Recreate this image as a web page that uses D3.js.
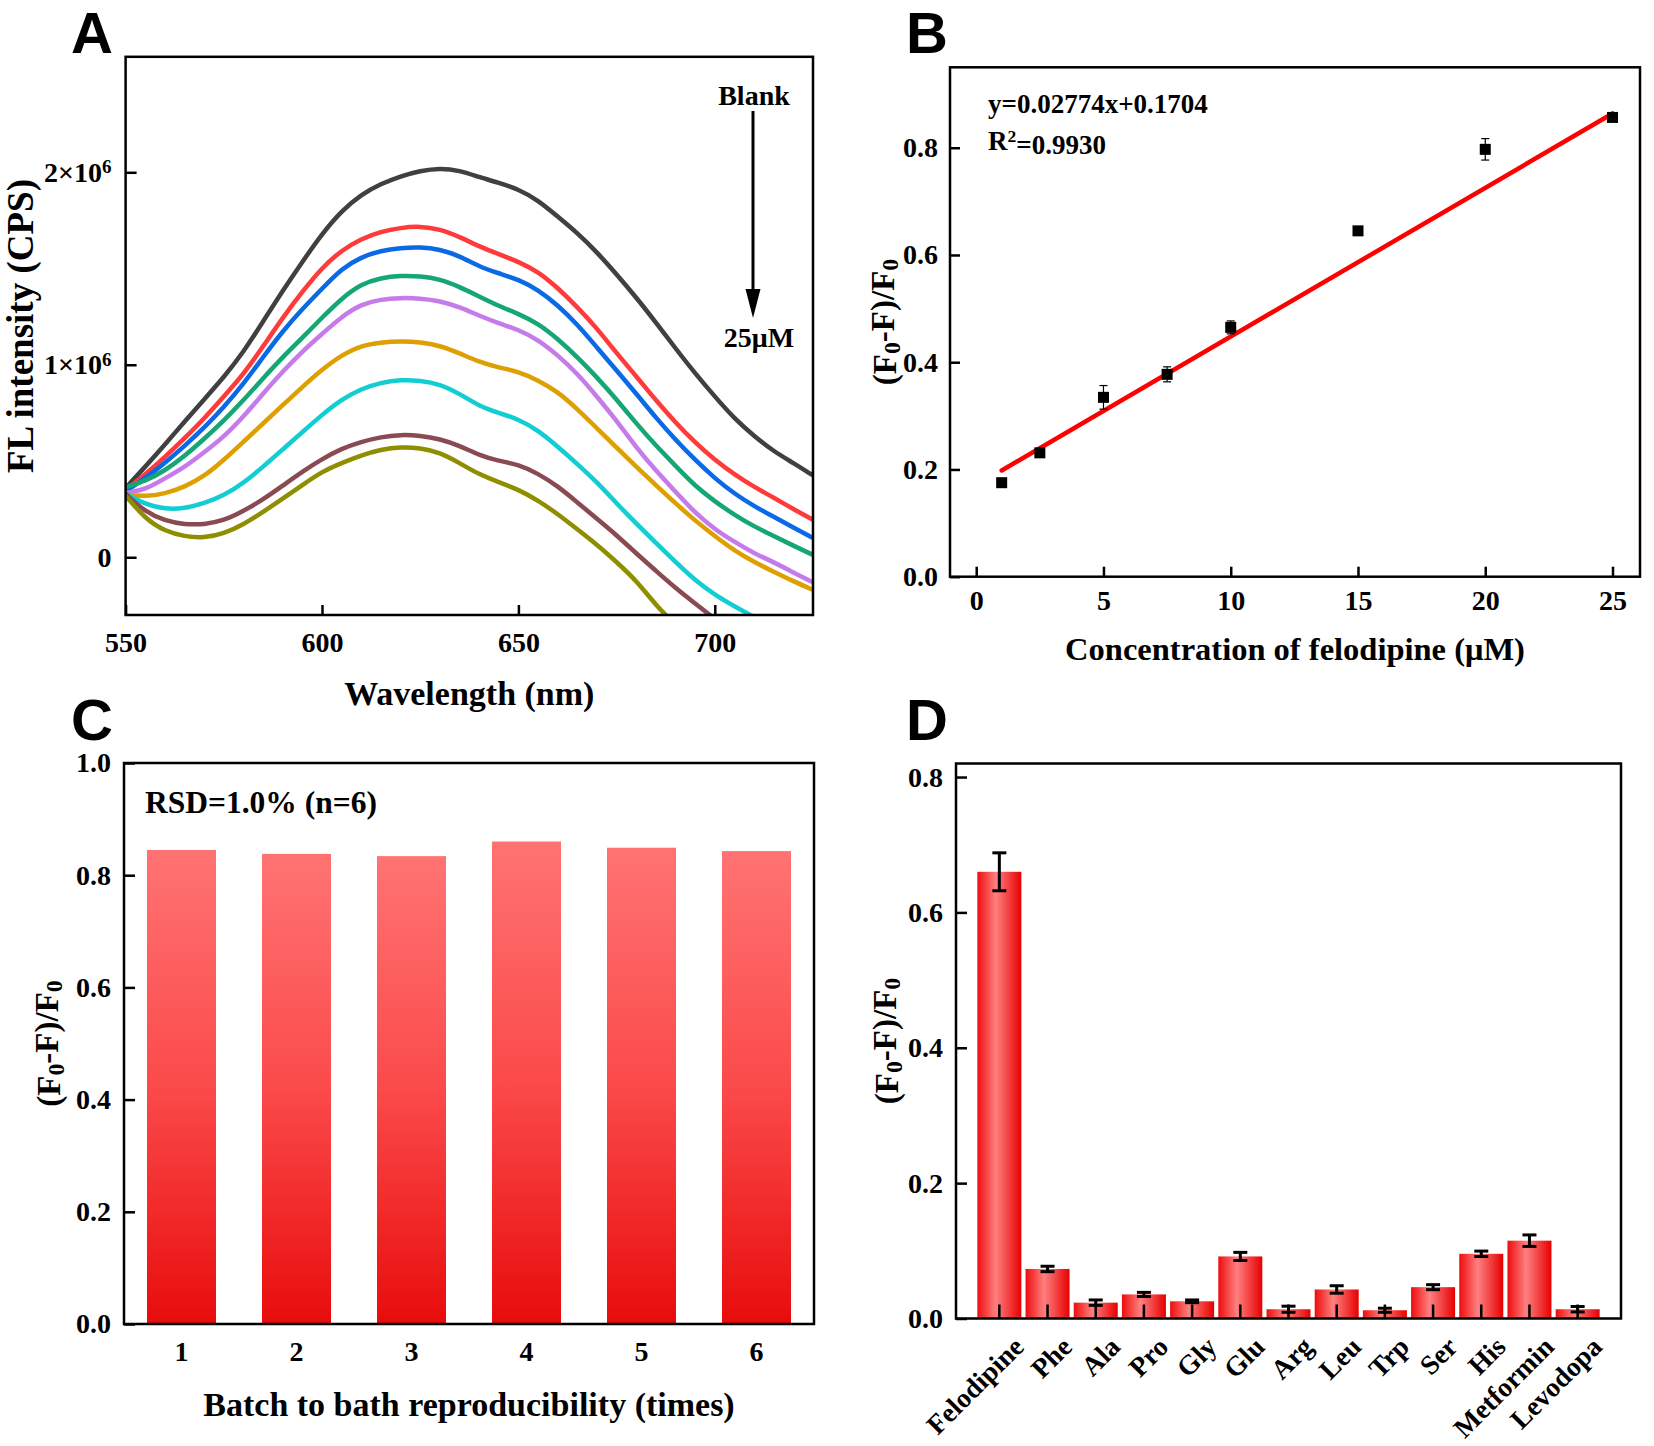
<!DOCTYPE html>
<html><head><meta charset="utf-8">
<script src="https://cdn.jsdelivr.net/npm/d3@7"></script>
<style>body{margin:0;background:#fff}svg{display:block}</style>
</head><body>
<svg id="fig" width="1654" height="1446"></svg>
<script>
// ---------------- DATA ----------------
// Panel A: fluorescence spectra (CPS, in units of 1e6)
const wavelengths = [550,555,560,565,570,575,580,585,590,595,600,605,610,615,620,625,630,635,640,645,650,655,660,665,670,675,680,685,690,695,700,705,710,715,720,725];
const specBlank = [0.36,0.47,0.585,0.705,0.82,0.935,1.065,1.225,1.385,1.535,1.68,1.8,1.885,1.94,1.98,2.008,2.022,2.01,1.975,1.945,1.912,1.855,1.77,1.685,1.585,1.47,1.35,1.22,1.085,0.955,0.835,0.72,0.63,0.55,0.49,0.425];
const spec1uM  = [0.35,0.43,0.52,0.618,0.72,0.835,0.95,1.095,1.245,1.38,1.505,1.595,1.655,1.692,1.712,1.72,1.705,1.665,1.615,1.575,1.535,1.485,1.4,1.3,1.19,1.06,0.94,0.815,0.7,0.595,0.505,0.43,0.365,0.31,0.25,0.195];
const spec2_5uM = [0.343,0.41,0.49,0.578,0.672,0.78,0.9,1.04,1.175,1.29,1.395,1.5,1.56,1.593,1.607,1.612,1.6,1.565,1.51,1.475,1.443,1.39,1.31,1.21,1.09,0.97,0.85,0.725,0.61,0.505,0.41,0.33,0.265,0.21,0.155,0.1];
const spec5uM  = [0.365,0.395,0.45,0.525,0.615,0.71,0.815,0.93,1.04,1.14,1.245,1.345,1.42,1.452,1.463,1.46,1.445,1.405,1.355,1.305,1.265,1.215,1.135,1.04,0.935,0.82,0.695,0.58,0.475,0.37,0.29,0.22,0.16,0.11,0.06,0.012];
const spec7_5uM = [0.334,0.35,0.41,0.468,0.545,0.625,0.73,0.85,0.965,1.07,1.16,1.25,1.315,1.34,1.348,1.345,1.332,1.3,1.255,1.215,1.183,1.13,1.05,0.955,0.835,0.71,0.57,0.45,0.34,0.23,0.145,0.08,0.02,-0.025,-0.08,-0.13];
const spec10uM = [0.325,0.315,0.33,0.365,0.42,0.505,0.6,0.695,0.79,0.885,0.975,1.05,1.1,1.116,1.123,1.118,1.1,1.06,1.015,0.985,0.965,0.92,0.86,0.77,0.67,0.57,0.47,0.375,0.28,0.19,0.11,0.035,-0.025,-0.075,-0.125,-0.17];
const spec15uM = [0.33,0.275,0.25,0.253,0.28,0.32,0.385,0.47,0.56,0.65,0.74,0.82,0.875,0.908,0.922,0.918,0.9,0.85,0.785,0.75,0.717,0.66,0.575,0.485,0.39,0.28,0.175,0.075,-0.025,-0.12,-0.195,-0.255,-0.31];
const spec20uM = [0.33,0.235,0.19,0.17,0.17,0.19,0.24,0.3,0.372,0.445,0.51,0.565,0.6,0.625,0.637,0.632,0.615,0.58,0.53,0.5,0.482,0.435,0.37,0.285,0.2,0.115,0.02,-0.07,-0.16,-0.24,-0.32];
const spec25uM = [0.32,0.2,0.135,0.108,0.1,0.122,0.17,0.235,0.305,0.375,0.445,0.49,0.53,0.56,0.573,0.568,0.545,0.49,0.43,0.39,0.352,0.295,0.225,0.145,0.065,-0.025,-0.12,-0.25,-0.35];
const spectra = [specBlank,spec1uM,spec2_5uM,spec5uM,spec7_5uM,spec10uM,spec15uM,spec20uM,spec25uM];
const spectraColors = ["#404040","#ff3a3a","#0a6ae6","#14a673","#c57bea","#dea000","#12cdd2","#8a4a52","#8e8e00"];
const yTicksA = [0,1e6,2e6];
const xTicksA = [550,600,650,700];

// Panel B: calibration
const concB = [1,2.5,5,7.5,10,15,20,25];
const ratioB = [0.1753,0.231,0.3345,0.3774,0.465,0.645,0.797,0.8565];
const errB = [0.004,0.005,0.022,0.014,0.012,0.004,0.02,0.005];
const fitSlope = 0.02774, fitIntercept = 0.1704;
const xTicksB = [0,5,10,15,20,25];
const yTicksB = [0,0.2,0.4,0.6,0.8];

// Panel C: batch reproducibility
const batches = ["1","2","3","4","5","6"];
const ratioC = [0.845,0.838,0.834,0.86,0.849,0.843];
const yTicksC = [0,0.2,0.4,0.6,0.8,1.0];

// Panel D: selectivity
const analytes = ["Felodipine","Phe","Ala","Pro","Gly","Glu","Arg","Leu","Trp","Ser","His","Metformin","Levodopa"];
const ratioD = [0.660,0.0732,0.0234,0.0356,0.0254,0.0917,0.0137,0.0429,0.0122,0.0463,0.0956,0.115,0.0137];
const errD = [0.028,0.004,0.004,0.003,0.002,0.006,0.0045,0.0055,0.003,0.0037,0.004,0.0085,0.004];
const yTicksD = [0,0.2,0.4,0.6,0.8];

// ---------------- DRAW ----------------
const SERIF = "'Liberation Serif','Times New Roman',serif";
const SANS = "'Liberation Sans',Arial,sans-serif";
const TICK_FS = 28, TITLE_FS = 33, LW = 2.5;
const svg = d3.select("#fig");
const defs = svg.append("defs");

function styleAxis(g){
  g.select(".domain").remove();
  g.selectAll(".tick line").attr("stroke","#000").attr("stroke-width",LW);
  g.selectAll(".tick text").attr("font-family",SERIF).attr("font-size",TICK_FS).attr("font-weight","bold").attr("fill","#000");
  g.attr("font-family",null).attr("font-size",null);
}
function frame(x0,y0,x1,y1){
  svg.append("rect").attr("x",x0).attr("y",y0).attr("width",x1-x0).attr("height",y1-y0)
    .attr("fill","none").attr("stroke","#000").attr("stroke-width",LW);
}
function panelLetter(t,x,y){
  svg.append("text").attr("x",x).attr("y",y).attr("font-family",SANS).attr("font-weight","bold")
    .attr("font-size",58).text(t);
}
function title(t,x,y,rot,fs){
  const el = svg.append("text").attr("font-family",SERIF).attr("font-weight","bold")
    .attr("font-size",fs||TITLE_FS).attr("text-anchor","middle")
    .attr("transform",`translate(${x},${y})`+(rot?" rotate(-90)":""));
  if(rot) el.attr("dy","0.35em");
  el.text(t);
  return el;
}
function ratioTitle(x,y){
  const el = svg.append("text").attr("font-family",SERIF).attr("font-weight","bold")
    .attr("font-size",TITLE_FS).attr("text-anchor","middle")
    .attr("transform",`translate(${x},${y}) rotate(-90)`).attr("dy","0.35em");
  el.append("tspan").text("(F");
  el.append("tspan").attr("font-size","0.72em").attr("dy","0.2em").text("0");
  el.append("tspan").attr("dy","-0.2em").text("-F)/F");
  el.append("tspan").attr("font-size","0.72em").attr("dy","0.2em").text("0");
}

// ===== Panel A =====
const xA = d3.scaleLinear([550,725],[125.6,813]);
const yA = d3.scaleLinear([-0.3e6,2.6e6],[615,56.8]);
defs.append("clipPath").attr("id","clipA").append("rect")
  .attr("x",xA.range()[0]).attr("y",yA.range()[1]).attr("width",xA.range()[1]-xA.range()[0]).attr("height",yA.range()[0]-yA.range()[1]);
const lineA = d3.line().x((d,i)=>xA(wavelengths[i])).y(d=>yA(d*1e6)).curve(d3.curveBasis);
const gA = svg.append("g").attr("clip-path","url(#clipA)");
spectra.forEach((s,k)=>{
  gA.append("path").attr("d",lineA(s)).attr("fill","none").attr("stroke",spectraColors[k])
    .attr("stroke-width",4.5).attr("stroke-linejoin","round");
});
svg.append("g").attr("transform",`translate(0,${yA.range()[0]})`)
  .call(d3.axisBottom(xA).tickValues(xTicksA).tickSize(-10).tickSizeOuter(0).tickPadding(17)).call(styleAxis);
const gyA = svg.append("g").attr("transform",`translate(${xA.range()[0]},0)`)
  .call(d3.axisLeft(yA).tickValues(yTicksA).tickSize(-11).tickSizeOuter(0).tickPadding(14).tickFormat(d=>d===0?"0":(d/1e6)+"×10")).call(styleAxis);
gyA.selectAll(".tick text").each(function(d){
  if(d!==0){ d3.select(this).append("tspan").attr("dy","-0.45em").attr("font-size","0.68em").text("6"); }
});
frame(xA.range()[0],yA.range()[1],xA.range()[1],yA.range()[0]);
title("Wavelength (nm)",(xA.range()[0]+xA.range()[1])/2,705,false,34);
title("FL intensity (CPS)",20,326,true,37);
// arrow annotation
svg.append("text").attr("x",754).attr("y",105).attr("text-anchor","middle").attr("font-family",SERIF)
  .attr("font-weight","bold").attr("font-size",28).text("Blank");
svg.append("line").attr("x1",753).attr("x2",753).attr("y1",111).attr("y2",295).attr("stroke","#000").attr("stroke-width",3);
svg.append("path").attr("d","M745.5,289 L760.5,289 L753,318 Z").attr("fill","#000");
svg.append("text").attr("x",759).attr("y",347).attr("text-anchor","middle").attr("font-family",SERIF)
  .attr("font-weight","bold").attr("font-size",28).text("25μM");
panelLetter("A",71,53);

// ===== Panel B =====
const xB = d3.scaleLinear([-1.03,26.08],[950,1640]);
const yB = d3.scaleLinear([0,0.95],[576.7,67.3]);
svg.append("g").attr("transform",`translate(0,${yB.range()[0]})`)
  .call(d3.axisBottom(xB).tickValues(xTicksB).tickSize(-10).tickSizeOuter(0).tickPadding(13)).call(styleAxis);
svg.append("g").attr("transform",`translate(${xB.range()[0]},0)`)
  .call(d3.axisLeft(yB).tickValues(yTicksB).tickSize(-10).tickSizeOuter(0).tickPadding(12).tickFormat(d3.format(".1f"))).call(styleAxis);
svg.append("line").attr("x1",xB(concB[0])).attr("y1",yB(fitSlope*concB[0]+fitIntercept))
  .attr("x2",xB(concB[concB.length-1])).attr("y2",yB(fitSlope*concB[concB.length-1]+fitIntercept))
  .attr("stroke","#ff0000").attr("stroke-width",4.5).attr("stroke-linecap","round");
const gB = svg.append("g");
concB.forEach((c,i)=>{
  const cx = xB(c), t = yB(ratioB[i]+errB[i]), b = yB(ratioB[i]-errB[i]);
  gB.append("line").attr("x1",cx).attr("x2",cx).attr("y1",t).attr("y2",b).attr("stroke","#000").attr("stroke-width",1.2);
  gB.append("line").attr("x1",cx-4).attr("x2",cx+4).attr("y1",t).attr("y2",t).attr("stroke","#000").attr("stroke-width",1.2);
  gB.append("line").attr("x1",cx-4).attr("x2",cx+4).attr("y1",b).attr("y2",b).attr("stroke","#000").attr("stroke-width",1.2);
  gB.append("rect").attr("x",cx-5.5).attr("y",yB(ratioB[i])-5.5).attr("width",11).attr("height",11).attr("fill","#000");
});
frame(xB.range()[0],yB.range()[1],xB.range()[1],yB.range()[0]);
svg.append("text").attr("x",988).attr("y",113).attr("font-family",SERIF).attr("font-weight","bold").attr("font-size",27)
  .text(`y=${fitSlope}x+${fitIntercept}`);
const r2 = svg.append("text").attr("x",988).attr("y",150).attr("font-family",SERIF).attr("font-weight","bold").attr("font-size",27);
r2.append("tspan").text("R");
r2.append("tspan").attr("dy","-0.45em").attr("font-size","0.65em").text("2");
r2.append("tspan").attr("dy","0.45em").text("=0.9930");
title("Concentration of felodipine (μM)",(xB.range()[0]+xB.range()[1])/2,660,false,32.5);
ratioTitle(884,(yB.range()[0]+yB.range()[1])/2);
panelLetter("B",906,53);

// ===== Panel C =====
const xC = d3.scaleBand(batches,[124,814]).paddingInner(0.4).paddingOuter(0.2);
const yC = d3.scaleLinear([0,1],[1324,763]);
const gradC = defs.append("linearGradient").attr("id","gradC").attr("x1",0).attr("y1",0).attr("x2",0).attr("y2",1);
gradC.append("stop").attr("offset","0%").attr("stop-color","#ff7373");
gradC.append("stop").attr("offset","50%").attr("stop-color","#fb4a4a");
gradC.append("stop").attr("offset","100%").attr("stop-color","#e80c0c");
svg.append("g").selectAll("rect").data(batches).join("rect")
  .attr("x",d=>xC(d)).attr("width",xC.bandwidth())
  .attr("y",(d,i)=>yC(ratioC[i])).attr("height",(d,i)=>yC(0)-yC(ratioC[i]))
  .attr("fill","url(#gradC)");
svg.append("g").attr("transform",`translate(0,${yC.range()[0]})`)
  .call(d3.axisBottom(xC).tickSize(0).tickPadding(17)).call(styleAxis);
svg.append("g").attr("transform",`translate(${xC.range()[0]},0)`)
  .call(d3.axisLeft(yC).tickValues(yTicksC).tickSize(-11).tickSizeOuter(0).tickPadding(13).tickFormat(d3.format(".1f"))).call(styleAxis);
frame(xC.range()[0],yC.range()[1],xC.range()[1],yC.range()[0]);
svg.append("text").attr("x",145).attr("y",813).attr("font-family",SERIF).attr("font-weight","bold").attr("font-size",31.5)
  .text("RSD=1.0% (n=6)");
title("Batch to bath reproducibility (times)",(xC.range()[0]+xC.range()[1])/2,1416,false,34);
ratioTitle(48,(yC.range()[0]+yC.range()[1])/2);
panelLetter("C",71,740);

// ===== Panel D =====
const xD = d3.scaleBand(analytes,[956,1621]).paddingInner(0.087).paddingOuter(0.443);
const yD = d3.scaleLinear([0,0.82],[1318.5,763.5]);
const gradD = defs.append("linearGradient").attr("id","gradD").attr("x1",0).attr("y1",0).attr("x2",1).attr("y2",0);
gradD.append("stop").attr("offset","0%").attr("stop-color","#ee0c0c");
gradD.append("stop").attr("offset","42%").attr("stop-color","#ff8080");
gradD.append("stop").attr("offset","100%").attr("stop-color","#e60000");
svg.append("g").selectAll("rect").data(analytes).join("rect")
  .attr("x",d=>xD(d)).attr("width",xD.bandwidth())
  .attr("y",(d,i)=>yD(ratioD[i])).attr("height",(d,i)=>yD(0)-yD(ratioD[i]))
  .attr("fill","url(#gradD)");
const gxD = svg.append("g").attr("transform",`translate(0,${yD.range()[0]})`)
  .call(d3.axisBottom(xD).tickSize(-14).tickSizeOuter(0).tickPadding(0)).call(styleAxis);
gxD.selectAll(".tick text").attr("text-anchor","end").attr("dy",null).attr("y",null)
  .attr("font-size",27.5).attr("transform","translate(26,30) rotate(-45)");
const gE = svg.append("g");
analytes.forEach((a,i)=>{
  const cx = xD(a)+xD.bandwidth()/2, t = yD(ratioD[i]+errD[i]), b = yD(ratioD[i]-errD[i]);
  gE.append("line").attr("x1",cx).attr("x2",cx).attr("y1",t).attr("y2",b).attr("stroke","#000").attr("stroke-width",3);
  [t,b].forEach(yy=>gE.append("line").attr("x1",cx-7).attr("x2",cx+7).attr("y1",yy).attr("y2",yy).attr("stroke","#000").attr("stroke-width",3));
});
svg.append("g").attr("transform",`translate(${xD.range()[0]},0)`)
  .call(d3.axisLeft(yD).tickValues(yTicksD).tickSize(-11).tickSizeOuter(0).tickPadding(13).tickFormat(d3.format(".1f"))).call(styleAxis);
frame(xD.range()[0],yD.range()[1],xD.range()[1],yD.range()[0]);
ratioTitle(886,(yD.range()[0]+yD.range()[1])/2);
panelLetter("D",906,740);
</script>
</body></html>
